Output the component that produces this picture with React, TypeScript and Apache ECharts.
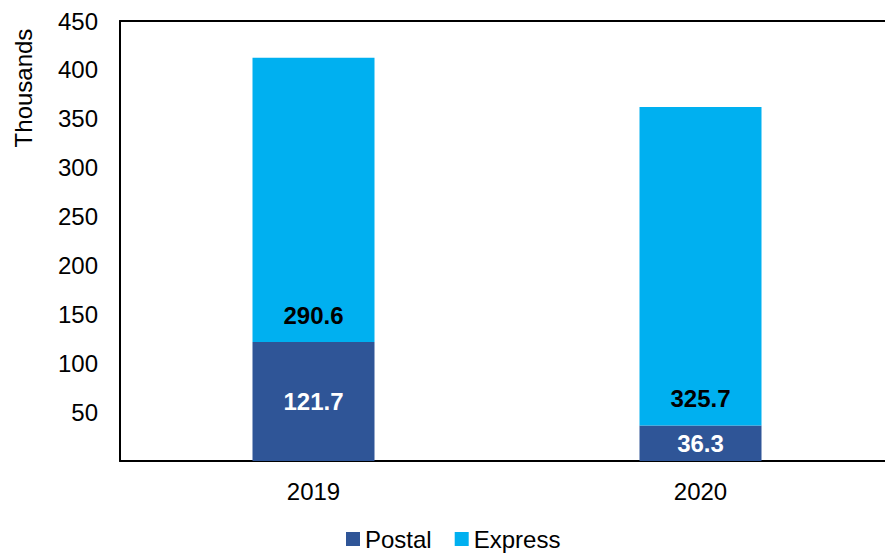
import React, { useEffect, useRef } from "react";
import * as echarts from "echarts";

const categories = ["2019", "2020"];
const postal = [121.7, 36.3];
const express = [290.6, 325.7];
const FONT = 'Arial, "Liberation Sans", sans-serif';

export default function App() {
  const ref = useRef<HTMLDivElement>(null);
  useEffect(() => {
    if (!ref.current) return;
    const chart = echarts.init(ref.current, null, { renderer: "svg" });
    chart.setOption({
      animation: false,
      textStyle: { fontFamily: FONT },
      grid: { left: 120, width: 774, top: 21, bottom: 94, containLabel: false },
      legend: {
        left: 341,
        top: 522,
        itemWidth: 14,
        itemHeight: 14,
        itemGap: 23,
        icon: "rect",
        textStyle: { fontSize: 24, color: "#000", fontFamily: FONT },
        data: ["Postal", "Express"],
      },
      graphic: [
        {
          type: "text",
          x: 23,
          y: 88,
          rotation: Math.PI / 2,
          style: {
            text: "Thousands",
            fontSize: 24,
            fontFamily: FONT,
            fill: "#000",
            align: "center",
            verticalAlign: "middle",
          },
        },
      ],
      xAxis: [
        {
          type: "category",
          data: categories,
          axisLine: { show: true, lineStyle: { color: "#000", width: 2 } },
          axisTick: { show: false },
          axisLabel: { fontSize: 24, color: "#000", margin: 18, fontFamily: FONT },
        },
        {
          type: "category",
          data: categories,
          position: "top",
          axisLine: { show: true, lineStyle: { color: "#000", width: 2 } },
          axisTick: { show: false },
          axisLabel: { show: false },
        },
      ],
      yAxis: {
        type: "value",
        min: 0,
        max: 450,
        interval: 50,
        axisLine: { show: true, lineStyle: { color: "#000", width: 2 } },
        axisTick: { show: false },
        splitLine: { show: false },
        axisLabel: {
          fontSize: 24,
          color: "#000",
          margin: 22,
          fontFamily: FONT,
          formatter: (v: number) => (v === 0 ? "" : String(v)),
        },
      },
      series: [
        {
          name: "Postal",
          type: "bar",
          stack: "total",
          barWidth: 122,
          data: postal,
          itemStyle: { color: "#2F5597" },
          label: {
            show: true,
            position: "inside",
            color: "#fff",
            fontWeight: "bold",
            fontSize: 24,
            fontFamily: FONT,
          },
        },
        {
          name: "Express",
          type: "bar",
          stack: "total",
          barWidth: 122,
          data: express,
          itemStyle: { color: "#00B0F0" },
          label: {
            show: true,
            position: "insideBottom",
            distance: 15,
            color: "#000",
            fontWeight: "bold",
            fontSize: 24,
            fontFamily: FONT,
          },
        },
      ],
    });
    return () => chart.dispose();
  }, []);
  return (
    <div style={{ position: "fixed", left: 0, top: 0, width: 885, height: 555, overflow: "hidden", background: "#fff" }}>
      <div ref={ref} style={{ width: 900, height: 555 }} />
    </div>
  );
}
